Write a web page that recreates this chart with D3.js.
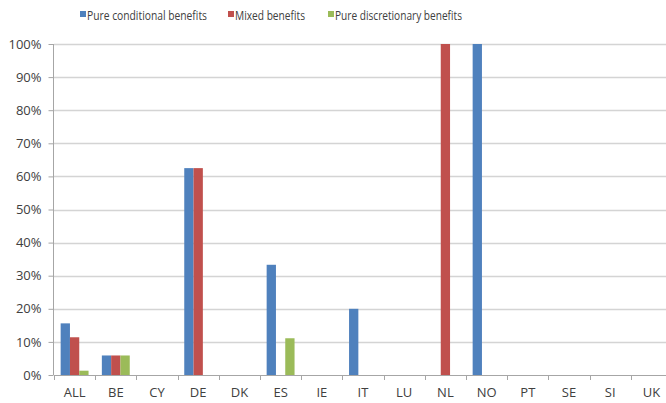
<!DOCTYPE html>
<html><head><meta charset="utf-8">
<script src="https://cdn.jsdelivr.net/npm/d3@7"></script>
<style>body{margin:0;background:#fff}svg{display:block}text{font-family:"Open Sans",sans-serif;fill:#404040}</style>
</head><body><svg id="c" width="666" height="403"></svg>
<script>
const categories = ["ALL","BE","CY","DE","DK","ES","IE","IT","LU","NL","NO","PT","SE","SI","UK"];
const seriesNames = ["Pure conditional benefits","Mixed benefits","Pure discretionary benefits"];
const colors = ["#4f81bd","#c0504d","#9bbb59"];
const conditional = [15.6,5.9,0,62.5,0,33.3,0,20,0,0,100,0,0,0,0];
const mixed       = [11.4,5.9,0,62.5,0,0,0,0,0,100,0,0,0,0,0];
const discretionary=[1.3,5.9,0,0,0,11.1,0,0,0,0,0,0,0,0,0];
const yTicks = [0,10,20,30,40,50,60,70,80,90,100];
const series = [conditional, mixed, discretionary];

const svg = d3.select("#c");
const x = d3.scaleBand().domain(categories).range([54, 54 + 15*41.2]).paddingInner(0).paddingOuter(0);
const y = d3.scaleLinear().domain([0,100]).range([375, 44]);
const bw = x.bandwidth();
const barW = bw/(3+1.43);
const xs = d3.scaleBand().domain(d3.range(3)).range([(bw-3*barW)/2, (bw+3*barW)/2]);

svg.append("g").selectAll("line").data(yTicks.filter(d=>d>0)).join("line")
  .attr("x1",54).attr("x2",666).attr("y1",d=>Math.round(y(d))+0.5).attr("y2",d=>Math.round(y(d))+0.5)
  .attr("stroke","#d4d4d4").attr("stroke-width",1.5);

series.forEach((vals,si)=>{
  svg.append("g").selectAll("rect").data(vals.map((v,i)=>({c:categories[i],v}))).join("rect")
    .filter(d=>d.v>0)
    .attr("x",d=>x(d.c)+xs(si)).attr("width",barW)
    .attr("y",d=>y(d.v)).attr("height",d=>y(0)-y(d.v))
    .attr("fill",colors[si]);
});

const ya = svg.append("g").attr("transform","translate(53.5,0)")
  .call(d3.axisLeft(y).tickValues(yTicks).tickFormat(d=>d+"%").tickSize(5).tickPadding(7));
ya.select(".domain").attr("stroke","#a6a6a6").attr("d","M0,44V375");
ya.selectAll(".tick line").attr("stroke","#a6a6a6");
ya.selectAll("text").attr("font-size",13).attr("fill","#404040").attr("font-family","\"Open Sans\",sans-serif");

const xa = svg.append("g").attr("transform","translate(0,375.5)")
  .call(d3.axisBottom(x).tickSize(0).tickPadding(12));
xa.select(".domain").attr("stroke","#a6a6a6").attr("d","M54,0H666");
xa.selectAll("text").attr("font-size",13).attr("fill","#404040").attr("font-family","\"Open Sans\",sans-serif");
svg.append("g").selectAll("line").data(categories.map((c,i)=>i)).join("line")
  .attr("x1",i=>Math.round(x(categories[i]))+0.5).attr("x2",i=>Math.round(x(categories[i]))+0.5)
  .attr("y1",375).attr("y2",380).attr("stroke","#a6a6a6");

const lx = [80,228,328];
const lw = [120,70,127];
const lg = svg.append("g");
seriesNames.forEach((n,i)=>{
  lg.append("rect").attr("x",lx[i]).attr("y",11).attr("width",6).attr("height",6).attr("fill",colors[i]);
  lg.append("text").attr("x",lx[i]+7).attr("y",19.5).attr("font-size",13)
    .attr("textLength",lw[i]).attr("lengthAdjust","spacingAndGlyphs").text(n);
});
</script></body></html>
